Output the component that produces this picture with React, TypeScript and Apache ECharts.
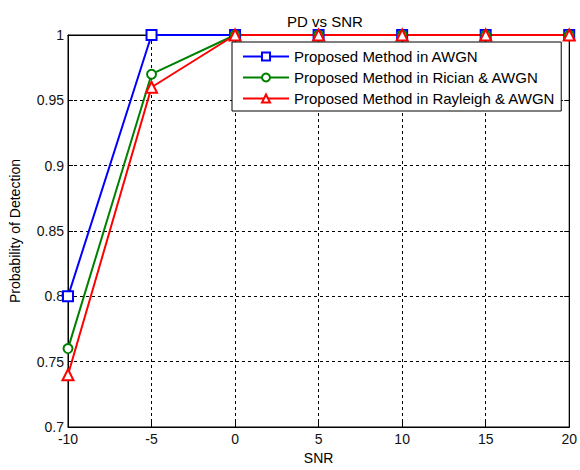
import React, { useEffect, useRef } from "react";
import * as echarts from "echarts";

const snr = [-10, -5, 0, 5, 10, 15, 20];
const awgn = [0.8, 1, 1, 1, 1, 1, 1];
const rician = [0.76, 0.97, 1, 1, 1, 1, 1];
const rayleigh = [0.74, 0.96, 1, 1, 1, 1, 1];
const seriesNames = [
  "Proposed Method in AWGN",
  "Proposed Method in Rician & AWGN",
  "Proposed Method in Rayleigh & AWGN",
];

const FONT = "Liberation Sans, Arial, sans-serif";

export default function App() {
  const ref = useRef<HTMLDivElement>(null);
  useEffect(() => {
    if (!ref.current) return;
    const chart = echarts.init(ref.current, undefined, { renderer: "svg" });
    const pair = (ys: number[]) => snr.map((x, i) => [x, ys[i]]);
    const mk = (name: string, ys: number[], color: string, symbol: string, size: number) => ({
      name,
      type: "line",
      data: pair(ys),
      clip: false,
      symbol,
      symbolSize: size,
      showAllSymbol: true,
      lineStyle: { color, width: 2 },
      itemStyle: { color, borderColor: color, borderWidth: 1.5 },
      z: 3,
    });
    const axisLineStyle = { onZero: false, lineStyle: { color: "#000", width: 1 } };
    chart.setOption({
      animation: false,
      backgroundColor: "#fff",
      textStyle: { fontFamily: FONT },
      title: {
        text: "PD vs SNR",
        left: 320,
        top: 9,
        textAlign: "center",
        textStyle: { fontFamily: FONT, fontSize: 15, fontWeight: "normal", color: "#000" },
      },
      grid: {
        left: 68,
        right: 7,
        top: 35,
        bottom: 37,
        show: true,
        borderColor: "#000",
        borderWidth: 1,
        backgroundColor: "#fff",
      },
      legend: {
        orient: "vertical",
        left: 232,
        top: 42,
        padding: [7, 6, 5, 10],
        itemGap: 6,
        itemWidth: 46,
        itemHeight: 10,
        backgroundColor: "#fff",
        borderColor: "#000",
        borderWidth: 1,
        textStyle: { fontFamily: FONT, fontSize: 15, color: "#000" },
        data: seriesNames,
      },
      xAxis: [
        {
          type: "value",
          min: -10,
          max: 20,
          interval: 5,
          name: "SNR",
          nameLocation: "middle",
          nameGap: 24,
          nameTextStyle: { fontFamily: FONT, fontSize: 14, color: "#000" },
          axisLine: axisLineStyle,
          axisTick: { inside: true, length: 5, lineStyle: { color: "#000" } },
          axisLabel: { fontFamily: FONT, fontSize: 14, color: "#111", margin: 5 },
          splitLine: { show: true, lineStyle: { color: "#000", type: [3, 3], width: 1 } },
        },
        {
          type: "value",
          position: "top",
          min: -10,
          max: 20,
          interval: 5,
          axisLine: axisLineStyle,
          axisTick: { inside: true, length: 5, lineStyle: { color: "#000" } },
          axisLabel: { show: false },
          splitLine: { show: false },
        },
      ],
      yAxis: [
        {
          type: "value",
          min: 0.7,
          max: 1,
          interval: 0.05,
          name: "Probability of Detection",
          nameLocation: "middle",
          nameGap: 46,
          nameTextStyle: { fontFamily: FONT, fontSize: 14, color: "#000" },
          axisLine: { show: true, ...axisLineStyle },
          axisTick: { show: true, inside: true, length: 5, lineStyle: { color: "#000" } },
          axisLabel: {
            fontFamily: FONT,
            fontSize: 14,
            color: "#111",
            margin: 4,
            formatter: (v: number) => String(Math.round(v * 100) / 100),
          },
          splitLine: { show: true, lineStyle: { color: "#000", type: [3, 3], width: 1 } },
        },
        {
          type: "value",
          position: "right",
          min: 0.7,
          max: 1,
          interval: 0.05,
          axisLine: { show: true, ...axisLineStyle },
          axisTick: { show: true, inside: true, length: 5, lineStyle: { color: "#000" } },
          axisLabel: { show: false },
          splitLine: { show: false },
        },
      ],
      series: [
        mk(seriesNames[0], awgn, "#0000ff", "emptyRect", 10),
        mk(seriesNames[1], rician, "#008000", "emptyCircle", 9),
        mk(seriesNames[2], rayleigh, "#ff0000", "emptyTriangle", 11),
      ],
    });
    return () => chart.dispose();
  }, []);
  return <div ref={ref} style={{ width: 580, height: 470, position: "absolute", left: 0, top: 0 }} />;
}
